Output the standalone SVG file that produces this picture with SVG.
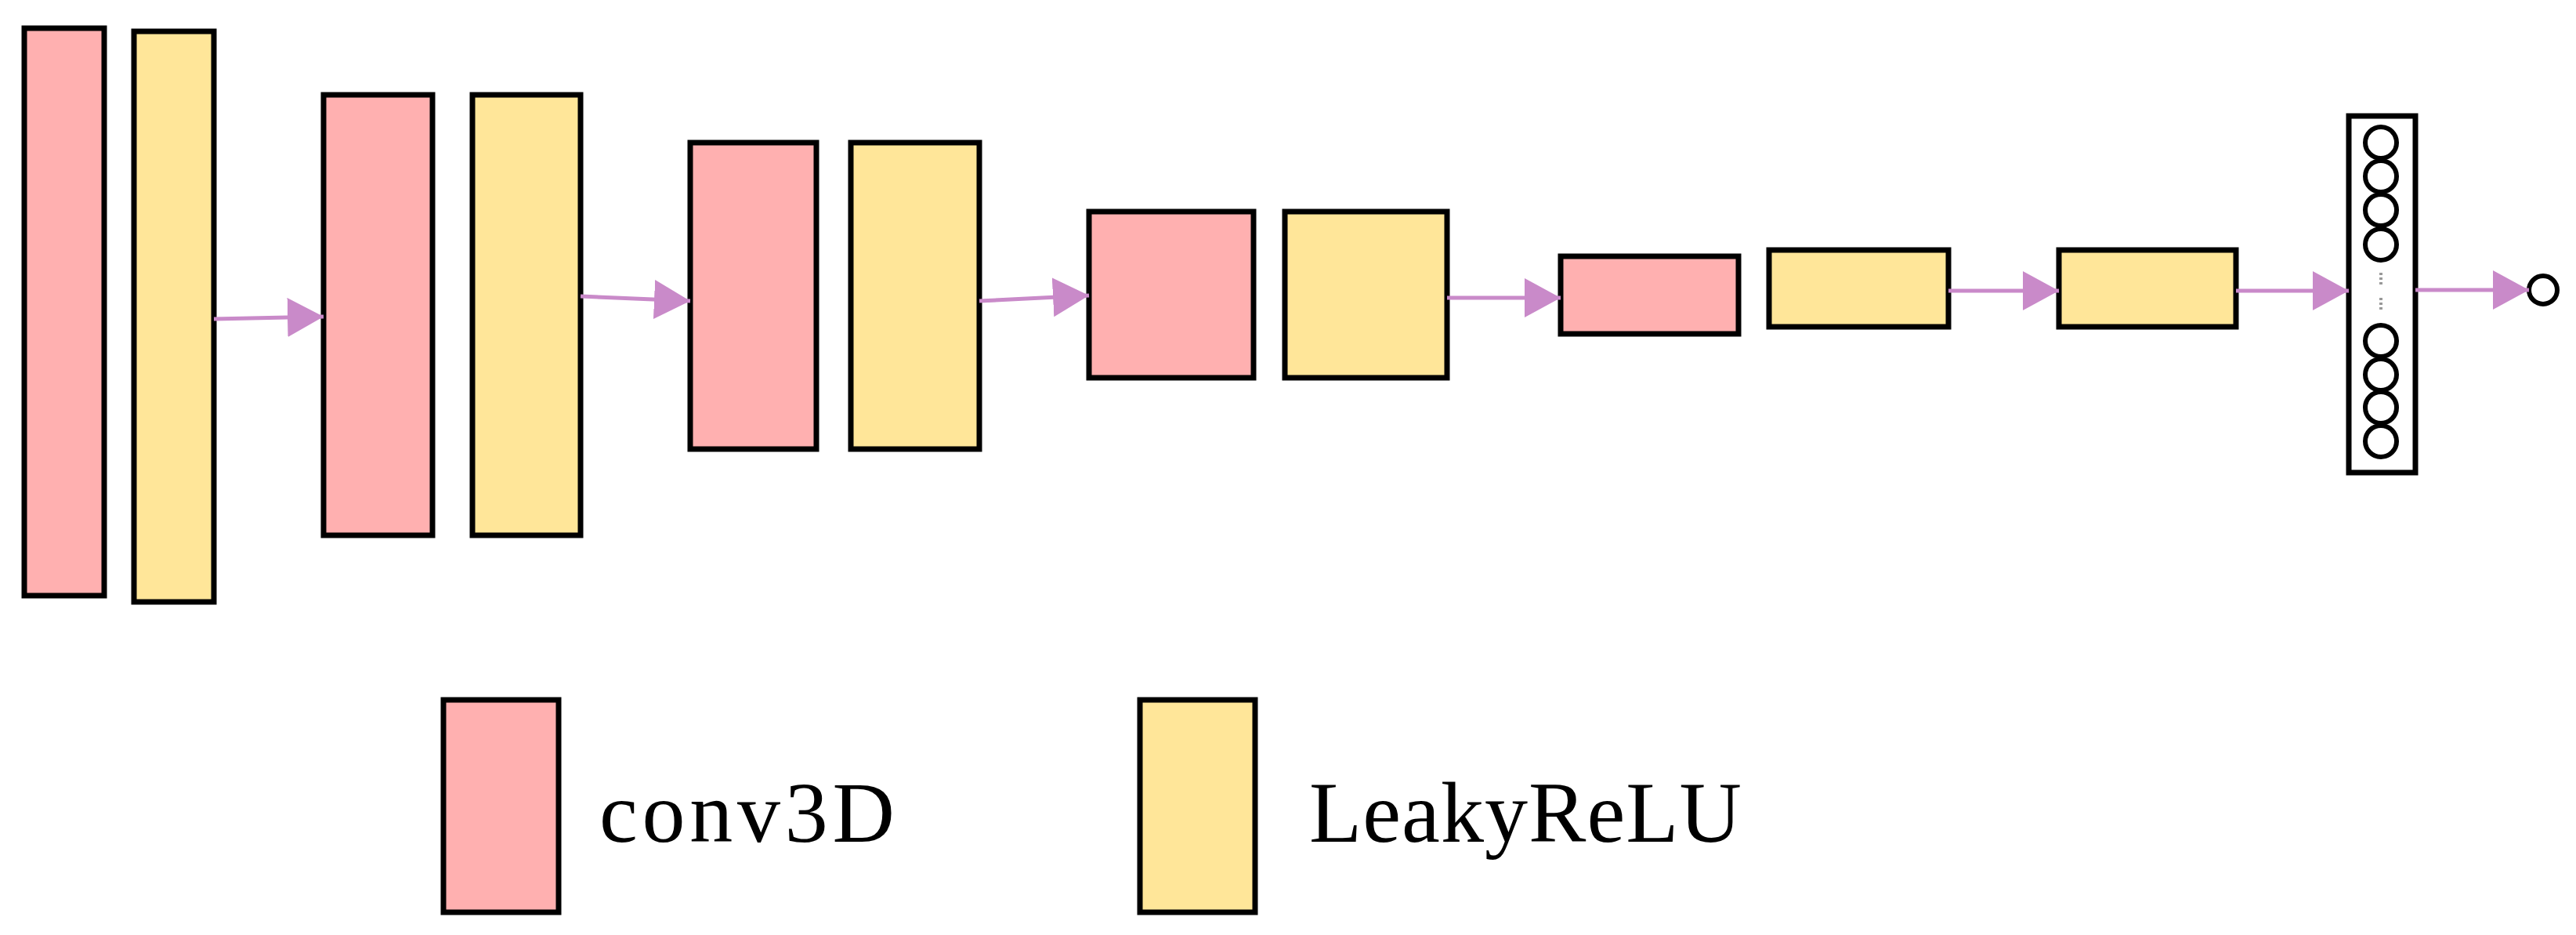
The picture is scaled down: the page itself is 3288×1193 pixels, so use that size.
<svg xmlns="http://www.w3.org/2000/svg" width="3288" height="1193" viewBox="0 0 3288 1193">
<style>
.c{fill:#ffb0b0;stroke:#000;stroke-width:7}
.l{fill:#ffe699;stroke:#000;stroke-width:7}
.e{fill:none;stroke:#c98ac9;stroke-width:5}
.n{fill:#fff;stroke:#000;stroke-width:6}
.t{font-family:"Liberation Serif",serif;font-size:110px;fill:#000}
</style>
<defs>
<marker id="a" markerUnits="userSpaceOnUse" markerWidth="46" markerHeight="50" refX="46" refY="25" orient="auto"><path d="M0,0L46,25L0,50z" fill="#c98ac9"/></marker>
</defs>
<rect width="3288" height="1193" fill="#fff"/>
<g id="conv1"><rect class="c" x="31" y="36" width="102" height="724"/></g>
<g id="relu1"><rect class="l" x="171" y="40" width="102" height="728"/></g>
<g id="conv2"><rect class="c" x="413" y="121" width="139" height="562"/></g>
<g id="relu2"><rect class="l" x="603" y="121" width="138" height="562"/></g>
<g id="conv3"><rect class="c" x="881" y="182" width="161" height="391"/></g>
<g id="relu3"><rect class="l" x="1086" y="182" width="164" height="391"/></g>
<g id="conv4"><rect class="c" x="1390" y="270" width="210" height="212"/></g>
<g id="relu4"><rect class="l" x="1640" y="270" width="207" height="212"/></g>
<g id="conv5"><rect class="c" x="1992" y="327" width="227" height="99"/></g>
<g id="relu5"><rect class="l" x="2258" y="319" width="229" height="98"/></g>
<g id="relu6"><rect class="l" x="2628" y="319" width="226" height="98"/></g>
<g id="fc">
<rect x="2998" y="148" width="85" height="455" fill="#fff" stroke="#000" stroke-width="7"/>
<circle class="n" cx="3039" cy="182" r="20"/><circle class="n" cx="3039" cy="225" r="20"/>
<circle class="n" cx="3039" cy="268" r="20"/><circle class="n" cx="3039" cy="312" r="20"/>
<circle class="n" cx="3039" cy="435" r="20"/><circle class="n" cx="3039" cy="478" r="20"/>
<circle class="n" cx="3039" cy="520" r="20"/><circle class="n" cx="3039" cy="563" r="20"/>
<g fill="#999"><rect x="3037" y="348" width="4" height="3"/><rect x="3037" y="354" width="4" height="3"/><rect x="3037" y="360" width="4" height="3"/>
<rect x="3037" y="380" width="4" height="3"/><rect x="3037" y="386" width="4" height="3"/><rect x="3037" y="392" width="4" height="3"/></g>
</g>
<g id="out"><circle class="n" cx="3246" cy="370" r="18"/></g>
<g id="edges">
<line class="e" x1="273" y1="407" x2="413" y2="404" marker-end="url(#a)"/>
<line class="e" x1="741" y1="378" x2="881" y2="384" marker-end="url(#a)"/>
<line class="e" x1="1250" y1="384" x2="1390" y2="377" marker-end="url(#a)"/>
<line class="e" x1="1847" y1="380" x2="1992" y2="380" marker-end="url(#a)"/>
<line class="e" x1="2487" y1="371" x2="2628" y2="371" marker-end="url(#a)"/>
<line class="e" x1="2854" y1="371" x2="2998" y2="371" marker-end="url(#a)"/>
<line class="e" x1="3083" y1="370" x2="3228" y2="370" marker-end="url(#a)"/>
</g>
<g id="legend">
<rect class="c" x="566" y="893" width="147" height="271"/>
<rect class="l" x="1455" y="893" width="147" height="271"/>
<text class="t" x="765" y="1074" textLength="377">conv3D</text>
<text class="t" x="1671" y="1074" textLength="552">LeakyReLU</text>
</g>
</svg>
